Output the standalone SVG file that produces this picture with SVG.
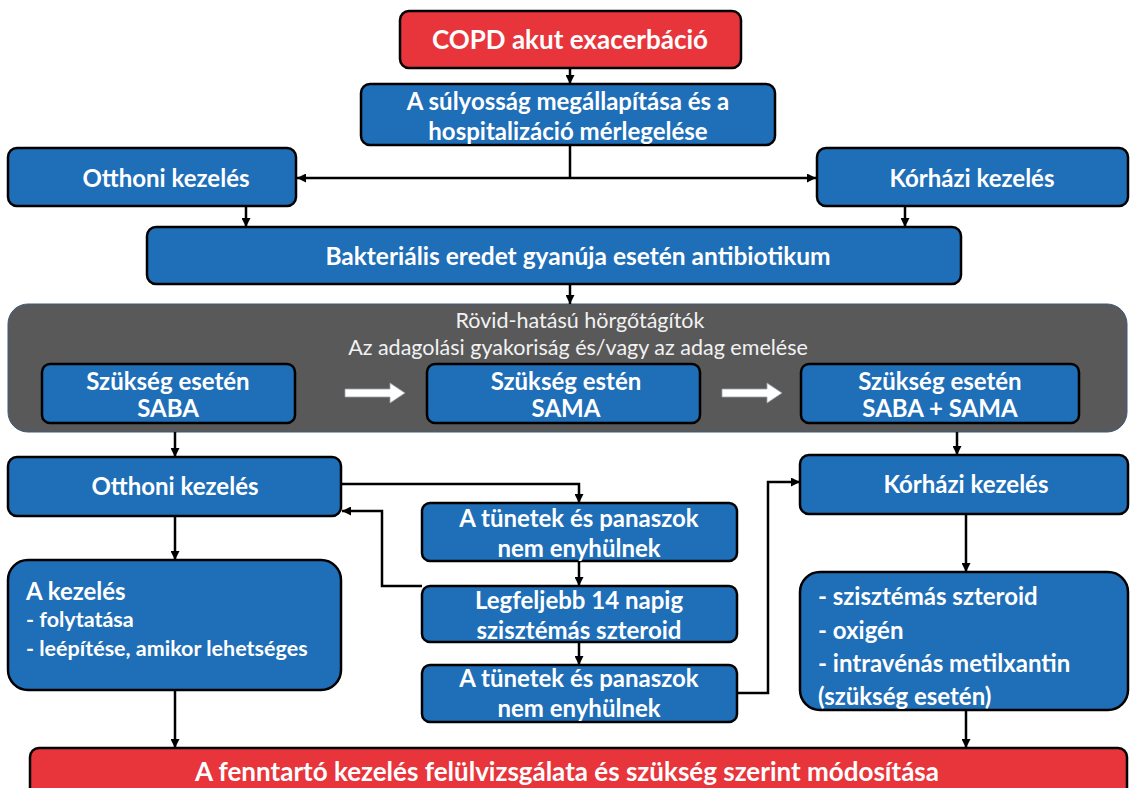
<svg xmlns="http://www.w3.org/2000/svg" width="1133" height="788" viewBox="0 0 1133 788">
  <defs>
    <marker id="arr" viewBox="0 0 10 10" refX="10" refY="5" markerWidth="9" markerHeight="9" markerUnits="userSpaceOnUse" orient="auto">
      <path d="M0,0 L10,5 L0,10 z" fill="#000"/>
    </marker>
    <style>
      .blue { fill: #1f6eb8; stroke: #000; stroke-width: 2.5; }
      .red { fill: #e8343b; stroke: #000; stroke-width: 2.5; }
      .panel { fill: #595959; stroke: #3d5a80; stroke-width: 1; }
      .t { font-family: Lato, "Open Sans", sans-serif; font-weight: bold; fill: #fff; text-anchor: middle; font-size: 24px; }
      .tl { font-family: Lato, "Open Sans", sans-serif; font-weight: bold; fill: #fff; text-anchor: start; }
      .tr { font-family: Lato, "Open Sans", sans-serif; font-weight: normal; fill: #f2f2f2; text-anchor: middle; font-size: 21.5px; }
      .c { fill: none; stroke: #000; stroke-width: 2.5; marker-end: url(#arr); }
      .cn { fill: none; stroke: #000; stroke-width: 2.5; }
      .w { fill: #fff; stroke: #9aa3ad; stroke-width: 0.8; }
    </style>
  </defs>
  <rect width="1133" height="788" fill="#fff"/>

  <!-- gray panel: short-acting bronchodilators -->
  <g id="panel">
    <rect class="panel" x="8" y="304" width="1119" height="128" rx="20"/>
    <text class="tr" x="580" y="328">Rövid-hatású hörgőtágítók</text>
    <text class="tr" x="578" y="355">Az adagolási gyakoriság és/vagy az adag emelése</text>
    <polygon class="w" points="345,389 390,389 390,383 405,393 390,403 390,397 345,397"/>
    <polygon class="w" points="722,389 767,389 767,383 782,393 767,403 767,397 722,397"/>
  </g>

  <g id="connectors">
    <line class="c" x1="570" y1="68" x2="570" y2="84"/>
    <line class="cn" x1="570" y1="145" x2="570" y2="178"/>
    <line class="c" x1="570" y1="178" x2="297" y2="178"/>
    <line class="c" x1="570" y1="178" x2="816" y2="178"/>
    <line class="c" x1="246" y1="206" x2="246" y2="227"/>
    <line class="c" x1="905" y1="206" x2="905" y2="227"/>
    <line class="c" x1="570" y1="284" x2="570" y2="304"/>
    <line class="c" x1="175" y1="432" x2="175" y2="457"/>
    <line class="c" x1="957" y1="432" x2="957" y2="455"/>
    <polyline class="c" points="342,484 579,484 579,503"/>
    <line class="c" x1="579" y1="561" x2="579" y2="586"/>
    <line class="c" x1="579" y1="642" x2="579" y2="665"/>
    <polyline class="c" points="422,586 382,586 382,511 342,511"/>
    <polyline class="c" points="737,693 768,693 768,482 800,482"/>
    <line class="c" x1="175" y1="516" x2="175" y2="560"/>
    <line class="c" x1="175" y1="690" x2="175" y2="748"/>
    <line class="c" x1="966" y1="514" x2="966" y2="572"/>
    <line class="c" x1="966" y1="710" x2="966" y2="748"/>
  </g>

  <g id="copd">
    <rect class="red" x="400" y="11" width="341" height="57" rx="9"/>
    <text class="t" x="570" y="49" style="font-size:26px">COPD akut exacerbáció</text>
  </g>

  <g id="sulyossag">
    <rect class="blue" x="361" y="84" width="414" height="61" rx="9"/>
    <text class="t" x="568" y="110">A súlyosság megállapítása és a</text>
    <text class="t" x="568" y="140">hospitalizáció mérlegelése</text>
  </g>

  <g id="otthoni1">
    <rect class="blue" x="8" y="148" width="288" height="58" rx="9"/>
    <text class="t" x="166" y="187">Otthoni kezelés</text>
  </g>

  <g id="korhazi1">
    <rect class="blue" x="817" y="148" width="311" height="58" rx="9"/>
    <text class="t" x="972" y="187">Kórházi kezelés</text>
  </g>

  <g id="bakterialis">
    <rect class="blue" x="147" y="227" width="814" height="57" rx="9"/>
    <text class="t" x="578" y="265" style="font-size:24.5px">Bakteriális eredet gyanúja esetén antibiotikum</text>
  </g>

  <g id="saba">
    <rect class="blue" x="42" y="364" width="253" height="59" rx="8"/>
    <text class="t" x="168" y="390">Szükség esetén</text>
    <text class="t" x="168" y="417">SABA</text>
  </g>

  <g id="sama">
    <rect class="blue" x="427" y="364" width="273" height="59" rx="8"/>
    <text class="t" x="566" y="390">Szükség estén</text>
    <text class="t" x="566" y="417">SAMA</text>
  </g>

  <g id="sabasama">
    <rect class="blue" x="801" y="364" width="278" height="59" rx="8"/>
    <text class="t" x="940" y="390">Szükség esetén</text>
    <text class="t" x="940" y="417">SABA + SAMA</text>
  </g>

  <g id="otthoni2">
    <rect class="blue" x="8" y="457" width="333" height="59" rx="9"/>
    <text class="t" x="175" y="495">Otthoni kezelés</text>
  </g>

  <g id="korhazi2">
    <rect class="blue" x="800" y="455" width="328" height="59" rx="9"/>
    <text class="t" x="966" y="493">Kórházi kezelés</text>
  </g>

  <g id="tunetek1">
    <rect class="blue" x="422" y="503" width="315" height="58" rx="8"/>
    <text class="t" x="579" y="527">A tünetek és panaszok</text>
    <text class="t" x="579" y="557">nem enyhülnek</text>
  </g>

  <g id="szteroid">
    <rect class="blue" x="422" y="586" width="315" height="56" rx="8"/>
    <text class="t" x="579" y="609">Legfeljebb 14 napig</text>
    <text class="t" x="579" y="639">szisztémás szteroid</text>
  </g>

  <g id="tunetek2">
    <rect class="blue" x="422" y="665" width="315" height="57" rx="8"/>
    <text class="t" x="579" y="687">A tünetek és panaszok</text>
    <text class="t" x="579" y="717">nem enyhülnek</text>
  </g>

  <g id="kezeles">
    <rect class="blue" x="8" y="560" width="333" height="130" rx="20"/>
    <text class="tl" x="26" y="600" font-size="24">A kezelés</text>
    <text class="tl" x="26" y="627" font-size="21.5">- folytatása</text>
    <text class="tl" x="26" y="656" font-size="21.5">- leépítése, amikor lehetséges</text>
  </g>

  <g id="korhazi-terapia">
    <rect class="blue" x="800" y="572" width="328" height="138" rx="20"/>
    <text class="tl" x="818" y="605" font-size="24">- szisztémás szteroid</text>
    <text class="tl" x="818" y="639" font-size="24">- oxigén</text>
    <text class="tl" x="818" y="672" font-size="24">- intravénás metilxantin</text>
    <text class="tl" x="818" y="705" font-size="24">(szükség esetén)</text>
  </g>

  <g id="fenntarto">
    <rect class="red" x="30" y="748" width="1097" height="60" rx="9"/>
    <text class="t" x="567" y="781" style="font-size:26px">A fenntartó kezelés felülvizsgálata és szükség szerint módosítása</text>
  </g>
</svg>
